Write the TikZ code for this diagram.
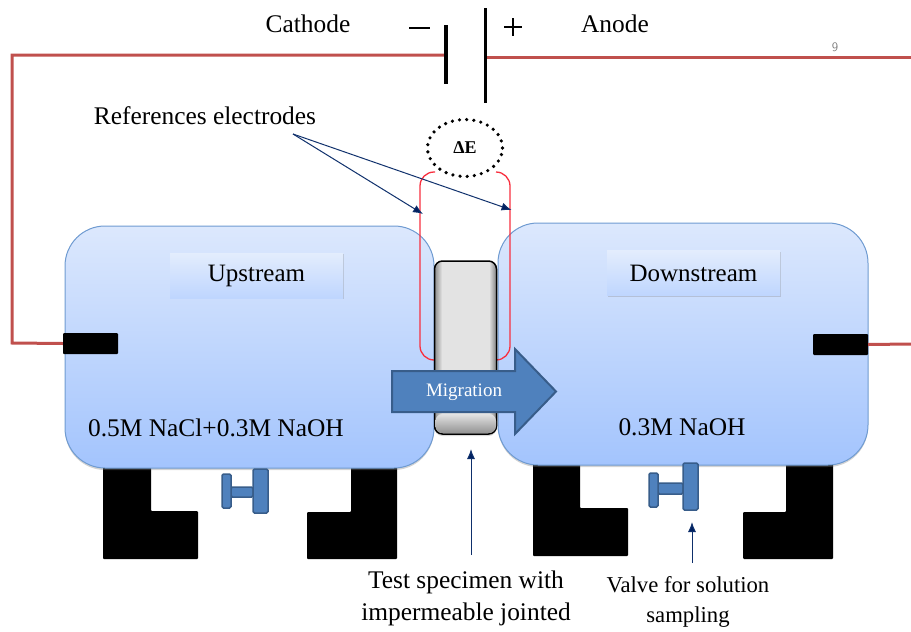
\documentclass[tikz,border=0pt]{standalone}
\usepackage{fontspec}
\setmainfont{Liberation Serif}
\usetikzlibrary{arrows.meta,shadows,shapes.geometric}
\definecolor{wirered}{HTML}{C0504D}
\definecolor{tanktop}{HTML}{DCE8FD}
\definecolor{tankbot}{HTML}{A3C4FD}
\definecolor{tankline}{HTML}{6F9BD1}
\definecolor{steel}{HTML}{4F81BD}
\definecolor{steelline}{HTML}{385D8A}
\definecolor{navy}{HTML}{002060}
\definecolor{redwire}{HTML}{F8303F}
\pgfdeclarehorizontalshading{specimenshade}{100bp}{
  rgb(0bp)=(.55,.55,.55); rgb(25bp)=(.55,.55,.55); rgb(31bp)=(.89,.89,.89);
  rgb(69bp)=(.89,.89,.89); rgb(75bp)=(.5,.5,.5); rgb(100bp)=(.5,.5,.5)}
\tikzset{
  wire/.style={wirered,line width=3pt},
  plate/.style={line width=3.5pt,black},
  tank/.style={draw=tankline,line width=1pt,rounded corners=40pt,top color=tanktop,bottom color=tankbot,
    drop shadow={shadow xshift=0pt,shadow yshift=-2pt,opacity=0.35},inner sep=0pt},
  tag/.style={top color=tanktop!80!white,bottom color=tankbot!70!white,minimum width=173pt,minimum height=45pt,
    inner sep=0pt,font=\fontsize{25}{25}\selectfont,
    drop shadow={shadow xshift=1pt,shadow yshift=-1pt,opacity=0.3}},
  block/.style={fill=black,inner sep=0pt,minimum width=55pt,minimum height=21pt,rounded corners=1pt},
  foot/.style={fill=black,rounded corners=1pt},
  valve/.style={fill=steel,draw=steelline,line width=1.5pt,rounded corners=1.5pt},
  redline/.style={redwire,line width=1.3pt,rounded corners=14pt},
  pointer/.style={navy!75!steelline,line width=1pt,-{Latex[length=10pt,width=8pt,fill=navy]}},
  label/.style={inner sep=0pt,font=\fontsize{25.4}{27}\selectfont},
  small/.style={inner sep=0pt,align=center,font=\fontsize{25.4}{32.5}\selectfont}
}
\begin{document}
\begin{tikzpicture}[x=1pt,y=-1pt]
  \useasboundingbox (0,0) rectangle (911,632);
  % battery
  \node[label] (cathode) at (308,24) {Cathode};
  \node[label] (anode) at (615,24) {Anode};
  \node[inner sep=0pt,gray,font=\sffamily\fontsize{13}{13}\selectfont] (page) at (835,47) {9};
  \draw[line width=2pt] (409,27.5) -- (430,27.5);
  \draw[line width=1.8pt] (513,18) -- (513,36) (504,27) -- (522,27);
  % feet and valve of the left tank
  \fill[foot] (103,460) -- (151,460) -- (151,511) -- (198,511) -- (198,559) -- (103,559) -- cycle;
  \fill[foot] (397,460) -- (351,460) -- (351,512) -- (307,512) -- (307,559) -- (397,559) -- cycle;
  % feet of the right tank
  \fill[foot] (533,455) -- (580,455) -- (580,508) -- (628,508) -- (628,556) -- (533,556) -- cycle;
  \fill[foot] (833,455) -- (786,455) -- (786,512) -- (743,512) -- (743,559) -- (833,559) -- cycle;
  % tanks
  \node[tank,minimum width=369pt,minimum height=242pt] (upstream) at (249.5,347) {};
  \node[tank,minimum width=370pt,minimum height=242pt] (downstream) at (683,344) {};
  \node[block] (blockL) at (90.5,343.5) {};
  \node[block] (blockR) at (840.5,344.5) {};
  \node[tag] (uptag) at (256.5,275.5) {Upstream};
  \node[tag] (downtag) at (693.5,273) {Downstream};
  \node[label] (upsol) at (216,428) {0.5M NaCl+0.3M NaOH};
  \node[label] (downsol) at (682,427) {0.3M NaOH};
  % wires
  \coordinate (plateminus) at (446,55);
  \coordinate (plateplus) at (486,57);
  \coordinate (corner) at (12,343);
  \coordinate (wireend) at (911,57);
  \coordinate (wireout) at (911,344);
  \draw[wire] (plateminus) -| (corner) -- (blockL.west);
  \draw[wire] (plateplus) -- (wireend);
  \draw[wire] (blockR.east) -- (wireout);
  \draw[plate] (446,25) -- (446,84);
  \draw[plate] (485.5,8) -- (485.5,103);
  % valves
  \draw[valve] (231,487) rectangle (253,497);
  \draw[valve] (222,474) rectangle (231,508);
  \draw[valve] (253,469) rectangle (268,513);
  \draw[valve] (658,483) rectangle (683,494);
  \draw[valve] (649,473) rectangle (658,507);
  \draw[valve] (683,463) rectangle (698,510);
  % reference electrodes
  \node[draw,line width=3.6pt,line cap=round,dash pattern=on 0pt off 7.2pt,ellipse,minimum width=75pt,minimum height=57pt,inner sep=0pt,font=\bfseries\fontsize{18}{18}\selectfont] (delta) at (465,148) {ΔE};
  \coordinate (redA) at (435,172);
  \coordinate (redB) at (435,360);
  \coordinate (redC) at (496,172);
  \coordinate (redD) at (496,360);
  \draw[redline] (redA) -- (420,172) -- (420,360) -- (redB);
  \draw[redline] (redC) -- (510,172) -- (510,360) -- (redD);
  % specimen
  \node[draw=black,line width=1.5pt,rounded corners=8pt,minimum width=62pt,minimum height=173pt,inner sep=0pt,
    shading=specimenshade,
    drop shadow={shadow xshift=0pt,shadow yshift=-2pt,opacity=0.3}] (specimen) at (465.5,347.5) {};
  \shade[top color=white!89!black,bottom color=gray!85,rounded corners=7pt] (435.5,414) rectangle (496,433);
  % migration arrow
  \draw[fill=steel,draw=steelline,line width=2pt,line join=miter] (392,371) -- (515,371) -- (515,349) -- (556,391.5) -- (515,434) -- (515,412) -- (392,412) -- cycle;
  \node[inner sep=0pt,white,font=\fontsize{19}{19}\selectfont] (migration) at (464,392) {Migration};
  % labels and pointers
  \node[label] (refs) at (205,116) {References electrodes};
  \coordinate (refstart) at (293,134);
  \coordinate (refA) at (423,214);
  \coordinate (refB) at (511.5,210);
  \draw[pointer] (refstart) -- (refA);
  \draw[pointer] (refstart) -- (refB);
  \node[small] (testlabel) at (466,598.5) {Test specimen with\\impermeable jointed};
  \node[small,font=\fontsize{22.7}{30}\selectfont] (valvelabel) at (688,602) {Valve for solution\\sampling};
  \coordinate (testtip) at (471,449);
  \coordinate (valvetip) at (692,522);
  \draw[pointer] (471,555) -- (testtip);
  \draw[pointer] (692,563) -- (valvetip);
\end{tikzpicture}
\end{document}
